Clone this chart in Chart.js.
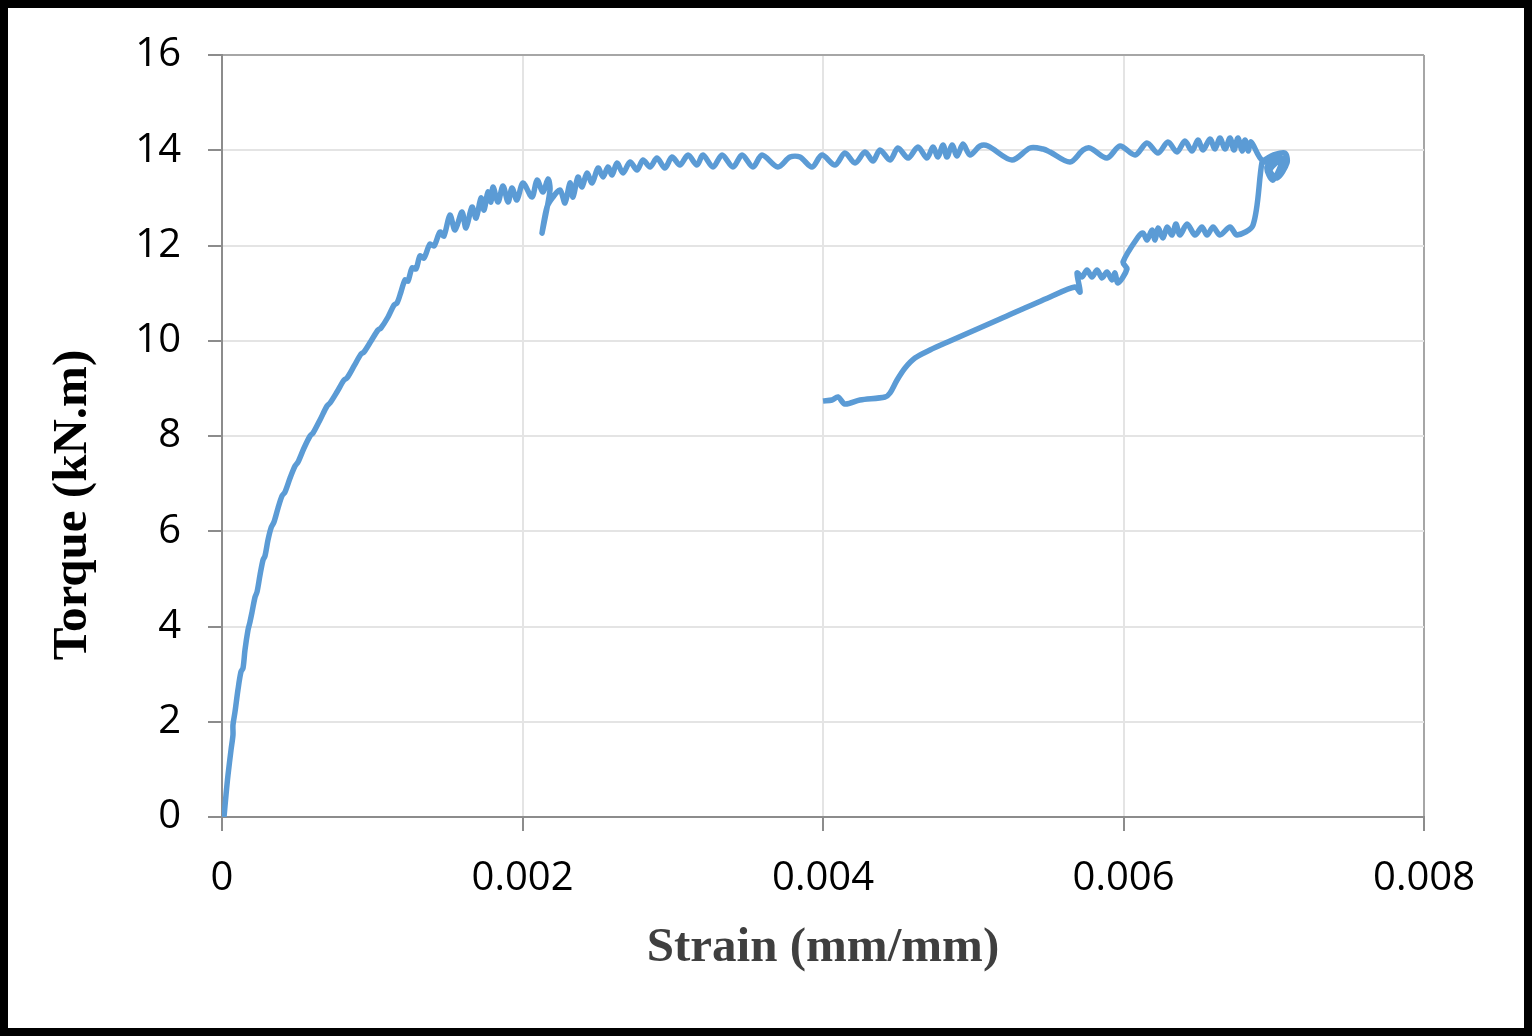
<!DOCTYPE html>
<html>
<head>
<meta charset="utf-8">
<script src="https://cdn.jsdelivr.net/npm/chart.js@4.4.1/dist/chart.umd.min.js"></script>
<style>
  html, body { margin: 0; padding: 0; background: #000; }
  body { width: 1532px; height: 1036px; position: relative; overflow: hidden; }
  #wrap { position: absolute; left: 8px; top: 8px; width: 1516px; height: 1020px; background: #fff; }
  canvas { display: block; }
</style>
</head>
<body>
<div id="wrap"><canvas id="c" width="1516" height="1020"></canvas></div>
<script>
// Strain (mm/mm) values
const strain = [
  0.0000133, 0.0000266, 0.00004, 0.00006, 0.000073, 0.000073, 0.0000865, 0.000106, 0.000126, 0.00014,
  0.000153, 0.000173, 0.000186, 0.0002, 0.00022, 0.000233, 0.000253, 0.000273, 0.000286, 0.000306,
  0.000326, 0.000346, 0.000373, 0.000399, 0.000419, 0.000453, 0.000486, 0.000506, 0.000546, 0.000586,
  0.000606, 0.000652, 0.000699, 0.000719, 0.000765, 0.000812, 0.000832, 0.000879, 0.000925, 0.000945,
  0.000992, 0.001038, 0.001058, 0.001105, 0.001145, 0.001165, 0.001191, 0.001218, 0.001238, 0.001265,
  0.001291, 0.001318, 0.001344, 0.001384, 0.001411, 0.001451, 0.001477,
  0.001517, 0.001551, 0.001597, 0.001624, 0.001664, 0.001691, 0.001724, 0.001744, 0.00177, 0.00179,
  0.001804, 0.001837, 0.00187, 0.001904, 0.00193, 0.001963, 0.002003, 0.002063, 0.002097, 0.002136,
  0.00217, 0.002183, 0.00213, 0.002163, 0.002203, 0.00225, 0.002283, 0.002316, 0.002336, 0.002369,
  0.002396, 0.002429, 0.002463, 0.002503, 0.002536, 0.002569, 0.002596, 0.002629, 0.002669, 0.002716,
  0.002762, 0.002802, 0.002849, 0.002895, 0.002948, 0.002995, 0.003048, 0.003102, 0.003161, 0.003201,
  0.003268, 0.003328, 0.003401, 0.003461, 0.003534, 0.003594, 0.0037, 0.00378, 0.003847, 0.003927,
  0.003993, 0.00408, 0.004146, 0.004213, 0.00428, 0.004333, 0.004379, 0.004446, 0.004499, 0.004566,
  0.004632, 0.004692, 0.004732, 0.004765, 0.004799, 0.004825, 0.004859, 0.004892, 0.004932, 0.004978,
  0.005045, 0.005098, 0.005258, 0.005378, 0.005464, 0.005511, 0.005644, 0.005731, 0.005777, 0.00589,
  0.005977, 0.006077, 0.006156, 0.00623, 0.006296, 0.006356, 0.006409, 0.006456, 0.006496, 0.006529,
  0.006576, 0.006609, 0.006642, 0.006676, 0.006709, 0.006735, 0.006762, 0.006789, 0.006809, 0.006829,
  0.006849, 0.006922,
  0.006995, 0.007075, 0.007088, 0.007022, 0.006975, 0.007062, 0.006995, 0.006955, 0.007042, 0.006942, 0.006922,
  0.006862, 0.006755, 0.006709, 0.006642, 0.006596, 0.006556, 0.006522, 0.006476, 0.006423, 0.006376,
  0.006349, 0.006323, 0.00629, 0.006263, 0.00623, 0.00621, 0.00619, 0.006156, 0.00613, 0.006097,
  0.005997, 0.006023, 0.005963, 0.005943, 0.005924, 0.00589, 0.005857, 0.005824, 0.00579, 0.005757,
  0.005724, 0.005691, 0.005711, 0.005677, 0.005511, 0.005178, 0.004845, 0.004712, 0.004612, 0.004546,
  0.004493, 0.004446, 0.004413, 0.004246, 0.004146, 0.0041, 0.00406, 0.004
];
// Torque (kN.m) values
const torque = [
  0, 0.462, 0.882, 1.407, 1.722, 1.932, 2.205, 2.667, 3.045, 3.129,
  3.507, 3.926, 4.094, 4.304, 4.619, 4.724, 5.081, 5.396, 5.48, 5.816,
  6.068, 6.194, 6.488, 6.74, 6.824, 7.118, 7.37, 7.454, 7.748, 8.0,
  8.063, 8.336, 8.63, 8.693, 8.924, 9.176, 9.218, 9.47, 9.722, 9.764,
  9.995, 10.226, 10.268, 10.499, 10.751, 10.793, 11.024, 11.276, 11.255, 11.528,
  11.507, 11.78, 11.738, 12.031, 11.99, 12.283, 12.199,
  12.64, 12.325, 12.703, 12.367, 12.808, 12.577, 12.997, 12.745, 13.123, 12.913,
  13.228, 12.913, 13.249, 12.913, 13.207, 12.955, 13.312, 13.018, 13.375, 13.123,
  13.396, 13.165, 12.262, 12.808, 13.018, 13.165, 12.892, 13.312, 13.018, 13.438,
  13.228, 13.522, 13.312, 13.627, 13.438, 13.648, 13.48, 13.732, 13.522, 13.753,
  13.585, 13.795, 13.648, 13.837, 13.627, 13.858, 13.69, 13.9, 13.69, 13.9,
  13.648, 13.9, 13.648, 13.9, 13.648, 13.9, 13.648, 13.858, 13.858, 13.648,
  13.9, 13.69, 13.942, 13.732, 13.963, 13.774, 14.005, 13.795, 14.047, 13.837,
  14.068, 13.837, 14.068, 13.858, 14.11, 13.858, 14.11, 13.879, 14.131, 13.9,
  14.089, 14.089, 13.795, 14.047, 14.026, 13.963, 13.753, 14.005, 14.047, 13.837,
  14.089, 13.9, 14.152, 13.942, 14.173, 13.963, 14.194, 13.984, 14.215, 14.005,
  14.236, 14.026, 14.257, 14.026, 14.257, 14.005, 14.257, 13.984, 14.215, 13.984,
  14.173, 13.795,
  13.9, 13.942, 13.732, 13.417, 13.585, 13.837, 13.375, 13.648, 13.858, 13.753, 13.753,
  12.43, 12.22, 12.388, 12.22, 12.388, 12.22, 12.388, 12.22, 12.451, 12.22,
  12.451, 12.22, 12.388, 12.157, 12.367, 12.115, 12.325, 12.115, 12.262, 12.178,
  11.654, 11.507, 11.213, 11.423, 11.276, 11.444, 11.318, 11.486, 11.339, 11.486,
  11.339, 11.423, 11.024, 11.129, 10.919, 10.457, 9.995, 9.806, 9.638, 9.428,
  9.176, 8.903, 8.819, 8.756, 8.672, 8.819, 8.756, 8.735
];
const xTickLabels = ['0', '0.002', '0.004', '0.006', '0.008'];
const yTickLabels = ['0', '2', '4', '6', '8', '10', '12', '14', '16'];
const xTitle = 'Strain (mm/mm)';
const yTitle = 'Torque (kN.m)';

const points = strain.map((s, i) => ({ x: s, y: torque[i] }));

const gridCol = (ctx, n) => (ctx.index === n ? '#a6a6a6' : '#e4e4e4');

// y-axis title drawn as canvas text, placed like the reference (below the axis centre)
const yTitlePlugin = {
  id: 'yTitlePlugin',
  afterDraw(chart) {
    const ctx = chart.ctx;
    ctx.save();
    ctx.translate(65, 497);
    ctx.rotate(-Math.PI / 2);
    ctx.font = 'bold 49px "Liberation Serif"';
    ctx.fillStyle = '#000';
    ctx.textAlign = 'center';
    ctx.textBaseline = 'middle';
    ctx.fillText(yTitle, 0, 0);
    ctx.restore();
  }
};

new Chart(document.getElementById('c'), {
  type: 'line',
  data: {
    datasets: [{
      data: points,
      borderColor: '#5b9bd5',
      borderWidth: 5.5,
      pointRadius: 0,
      tension: 0.3,
      fill: false
    }]
  },
  options: {
    responsive: false,
    animation: false,
    layout: { padding: { left: 0, top: 20, right: 100, bottom: 0 } },
    plugins: { legend: { display: false }, tooltip: { enabled: false } },
    scales: {
      x: {
        type: 'linear',
        min: 0, max: 0.008,
        afterFit: (s) => { s.height = 211; },
        afterBuildTicks: (s) => { s.ticks = xTickLabels.map(Number).map(v => ({ value: v })); },
        ticks: {
          callback: (v, i) => xTickLabels[i],
          font: { family: 'Open Sans', size: 40 },
          color: '#000',
          padding: 24,
          maxRotation: 0,
          autoSkip: false
        },
        grid: {
          color: (ctx) => gridCol(ctx, xTickLabels.length - 1),
          lineWidth: 2,
          tickLength: 14,
          tickColor: '#8c8c8c',
          tickWidth: 2
        },
        border: { color: '#8c8c8c', width: 2 },
        title: {
          display: true,
          text: xTitle,
          font: { family: 'Liberation Serif', size: 49, weight: 'bold' },
          color: '#3f3f3f',
          padding: { top: 0, bottom: 50 }
        }
      },
      y: {
        type: 'linear',
        min: 0, max: 16,
        afterFit: (s) => { s.width = 214; },
        afterBuildTicks: (s) => { s.ticks = yTickLabels.map(Number).map(v => ({ value: v })); },
        ticks: {
          callback: (v, i) => yTickLabels[i],
          font: { family: 'Open Sans', size: 40, lineHeight: 1.0 },
          color: '#000',
          padding: 27,
          autoSkip: false
        },
        grid: {
          color: (ctx) => gridCol(ctx, yTickLabels.length - 1),
          lineWidth: 2,
          tickLength: 14,
          tickColor: '#8c8c8c',
          tickWidth: 2
        },
        border: { color: '#8c8c8c', width: 2 },
        title: { display: false }
      }
    }
  },
  plugins: [yTitlePlugin]
});
</script>
</body>
</html>
